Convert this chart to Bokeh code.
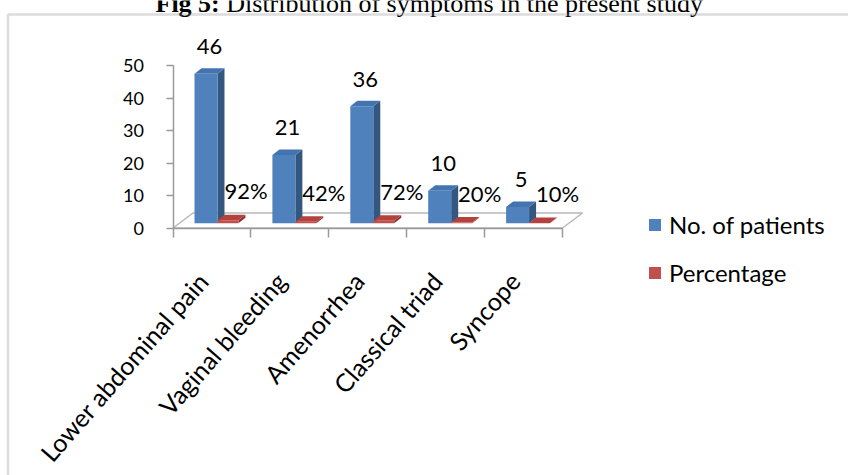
import math
from bokeh.plotting import figure
from bokeh.models import (ColumnDataSource, FixedTicker, LabelSet, Label, Legend,
                          LegendItem, BoxAnnotation, Range1d, LinearAxis)
from bokeh.core.properties import value
from bokeh.embed import file_html
from bokeh.resources import INLINE

# ---------------- data ----------------
categories = ["Lower abdominal pain", "Vaginal bleeding", "Amenorrhea",
              "Classical triad", "Syncope"]
patients = [46, 21, 36, 10, 5]
percentage = [0.92, 0.42, 0.72, 0.20, 0.10]
y_ticks = [0, 10, 20, 30, 40, 50]
series_names = ["No. of patients", "Percentage"]
title_bold = "Fig 5:"
title_rest = "Distribution of symptoms in the present study"

# ---------------- layout constants (pixels) ----------------
W, H = 848, 475
X0, Y0 = 172.5, 227.5   # pixel position of the data origin (axes corner)
XS = 77.9               # px per category
YS = 3.25               # px per value unit
n = len(categories)

p = figure(width=W, height=H,
           x_range=Range1d(-X0 / XS, (W - X0) / XS),
           y_range=Range1d((Y0 - H) / YS, Y0 / YS),
           output_backend="svg", toolbar_location=None, min_border=0,
           x_axis_type=None, y_axis_type=None)
p.outline_line_color = None
p.background_fill_color = "white"
p.border_fill_color = "white"

AX_COLOR = "#9a9a9a"

# y axis (drawn at x = 0)
yaxis = LinearAxis(ticker=FixedTicker(ticks=y_ticks), bounds=(min(y_ticks), max(y_ticks)),
                   fixed_location=0)
yaxis.axis_line_color = AX_COLOR
yaxis.axis_line_width = 1.5
yaxis.major_tick_line_color = AX_COLOR
yaxis.major_tick_line_width = 1.5
yaxis.major_tick_out = 7
yaxis.major_tick_in = 0
yaxis.minor_tick_line_color = None
yaxis.major_label_standoff = 22
yaxis.major_label_text_font = "Lato"
yaxis.major_label_text_font_size = "18px"
yaxis.major_label_text_color = "black"
p.add_layout(yaxis, "left")

# x axis (drawn at y = 0; tick marks at category boundaries, labels near centres)
LABEL_SHIFT = -9 / XS
label_pos = [i + 0.5 + LABEL_SHIFT for i in range(n)]
xaxis = LinearAxis(ticker=FixedTicker(ticks=label_pos, minor_ticks=list(range(n + 1))),
                   bounds=(0, n), fixed_location=0,
                   major_label_overrides={c: lab for c, lab in zip(label_pos, categories)})
xaxis.axis_line_color = AX_COLOR
xaxis.axis_line_width = 1.5
xaxis.major_tick_line_color = None
xaxis.major_tick_out = 9
xaxis.major_tick_in = 0
xaxis.minor_tick_line_color = AX_COLOR
xaxis.minor_tick_line_width = 1.5
xaxis.minor_tick_out = 9
xaxis.minor_tick_in = 0
xaxis.major_label_orientation = 0.855
xaxis.major_label_standoff = 39
xaxis.major_label_text_font = "Lato"
xaxis.major_label_text_font_size = "25px"
xaxis.major_label_text_color = "black"
p.add_layout(xaxis, "below")

# ---------------- 3D floor ----------------
FLOOR_DX = 20 / XS
FLOOR_DY = 15 / YS
p.patch([0, n, n + FLOOR_DX, FLOOR_DX], [0, 0, FLOOR_DY, FLOOR_DY],
        fill_color="white", line_color="#b8b8b8", line_width=1.5)

# ---------------- 3D bars ----------------
BASE = 4.8 / YS
DDX = 7 / XS
DDY = 5.5 / YS
blue_l = [i + 0.276 for i in range(n)]
blue_r = [i + 0.571 for i in range(n)]
red_l = blue_r
red_r = [i + 0.84 for i in range(n)]


def faces(lefts, rights, vals):
    sx, sy, tx, ty = [], [], [], []
    for l, r, v in zip(lefts, rights, vals):
        t = BASE + v
        sx.append([r, r + DDX, r + DDX, r])
        sy.append([BASE, BASE + DDY, t + DDY, t])
        tx.append([l, l + DDX, r + DDX, r])
        ty.append([t, t + DDY, t + DDY, t])
    return sx, sy, tx, ty


def draw_series(lefts, rights, vals, front, side, top):
    sx, sy, tx, ty = faces(lefts, rights, vals)
    p.patches(sx, sy, fill_color=side, line_color=None)
    p.patches(tx, ty, fill_color=top, line_color=None)
    return p.quad(left=lefts, right=rights, bottom=[BASE] * len(vals),
                  top=[BASE + v for v in vals], fill_color=front, line_color=None)


r_blue = draw_series(blue_l, blue_r, patients, "#4F81BD", "#34577F", "#4474B0")
r_red = draw_series(red_l, red_r, percentage, "#C0504D", "#8A3432", "#B3423F")

# ---------------- data labels ----------------
src_b = ColumnDataSource(dict(
    x=[(l + r) / 2 + DDX / 2 for l, r in zip(blue_l, blue_r)],
    y=[BASE + v + 19.5 / YS for v in patients],
    text=[str(v) for v in patients]))
src_r = ColumnDataSource(dict(
    x=[i + 0.937 for i in range(n)],
    y=[BASE + v + 6.4 for v in percentage],
    text=["%d%%" % round(v * 100) for v in percentage]))
for src in (src_b, src_r):
    p.add_layout(LabelSet(x="x", y="y", text="text", source=src,
                          text_align="center", text_baseline="alphabetic",
                          text_font=value("Lato"), text_font_size=value("22px"),
                          text_color="black"))

# ---------------- legend (screen units from bottom-left) ----------------
legend = Legend(items=[LegendItem(label=series_names[0], renderers=[r_blue]),
                       LegendItem(label=series_names[1], renderers=[r_red])],
                location=(647, H - 287), orientation="vertical",
                glyph_width=15, glyph_height=15, label_standoff=7, spacing=19,
                padding=0, margin=0, border_line_color=None,
                background_fill_alpha=0, label_text_font="Lato",
                label_text_font_size="24px", label_text_color="black")
p.add_layout(legend)

# ---------------- title and chart border ----------------
TITLE_X, TITLE_Y, TITLE_SIZE = 155, H - 3, 26
p.add_layout(Label(x=TITLE_X, y=TITLE_Y, x_units="screen", y_units="screen",
                   text=title_bold, text_font="Liberation Serif", text_font_style="bold",
                   text_font_size="%dpx" % TITLE_SIZE, text_baseline="alphabetic",
                   text_color="black"))
p.add_layout(Label(x=TITLE_X + 2.722 * TITLE_SIZE, y=TITLE_Y,
                   x_units="screen", y_units="screen", text=title_rest,
                   text_font="Liberation Serif", text_font_size="%dpx" % TITLE_SIZE,
                   text_baseline="alphabetic", text_color="black"))
p.add_layout(BoxAnnotation(left=7.5, right=W + 50, top=H - 14, bottom=-50,
                           left_units="screen", right_units="screen",
                           top_units="screen", bottom_units="screen",
                           fill_alpha=0, line_color="#8c8c8c", line_width=2.5))

open("out.html", "w").write(file_html(p, INLINE))
